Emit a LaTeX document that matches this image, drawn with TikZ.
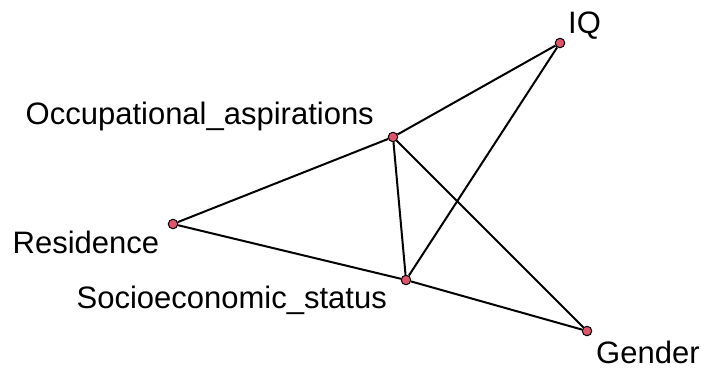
\documentclass[tikz,border=0pt]{standalone}
\usepackage{fontspec}
\setmainfont{Liberation Sans}
\usepackage{xcolor}
\definecolor{Dot}{HTML}{DF536B}
\tikzset{
  vtx/.style={circle,draw=black,line width=1pt,fill=Dot,minimum size=9.5pt,inner sep=0pt},
  lbl/.style={inner sep=0pt,anchor=base west,font=\fontsize{31}{37}\selectfont},
  edge/.style={line width=2pt,black}
}

\begin{document}
\begin{tikzpicture}[x=1pt,y=-1pt]
  \useasboundingbox (0,0) rectangle (706,368);
  % variables
  \node[vtx] (iq)  at (560,43)  {};
  \node[vtx] (occ) at (393,137) {};
  \node[vtx] (res) at (173,224) {};
  \node[vtx] (ses) at (406,280) {};
  \node[vtx] (gen) at (587,331) {};
  % names
  \node[lbl] (iqlbl)  at (568,33)    {IQ};
  \node[lbl] (occlbl) at (25.5,124)  {Occupational\_aspirations};
  \node[lbl] (reslbl) at (12.5,253)  {Residence};
  \node[lbl] (seslbl) at (76.5,308)  {Socioeconomic\_status};
  \node[lbl] (genlbl) at (596,363)   {Gender};
  % links
  \draw[edge] (iq) -- (occ);
  \draw[edge] (iq) -- (ses);
  \draw[edge] (occ) -- (res);
  \draw[edge] (occ) -- (ses);
  \draw[edge] (occ) -- (gen);
  \draw[edge] (res) -- (ses);
  \draw[edge] (ses) -- (gen);
\end{tikzpicture}
\end{document}
